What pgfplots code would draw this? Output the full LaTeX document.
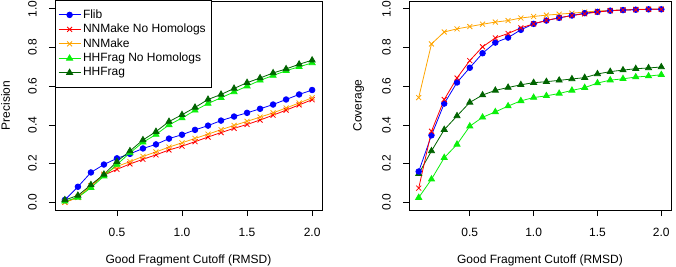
\documentclass[border=0pt]{standalone}
\usepackage{pgfplots}
\usepackage{pgfplotstable}
\pgfplotsset{compat=1.18}
\usepackage{fontspec}
\setmainfont{Liberation Sans}

\definecolor{cblue}{RGB}{0,0,255}
\definecolor{cred}{RGB}{255,0,0}
\definecolor{corange}{RGB}{255,165,0}
\definecolor{clgreen}{RGB}{10,240,10}
\definecolor{cdgreen}{RGB}{0,100,0}

\pgfplotstableread{
x   flib  nnmnh nnm   hhnh  hh
0.1 0.012 0.000 0.000 0.005 0.012
0.2 0.080 0.025 0.025 0.025 0.035
0.3 0.154 0.085 0.085 0.075 0.090
0.4 0.195 0.140 0.145 0.135 0.144
0.5 0.227 0.170 0.185 0.195 0.210
0.6 0.250 0.198 0.210 0.255 0.265
0.7 0.278 0.222 0.237 0.310 0.322
0.8 0.299 0.245 0.260 0.350 0.365
0.9 0.329 0.270 0.285 0.400 0.417
1.0 0.349 0.290 0.307 0.435 0.452
1.1 0.374 0.313 0.330 0.475 0.490
1.2 0.396 0.337 0.352 0.510 0.531
1.3 0.422 0.360 0.375 0.540 0.557
1.4 0.443 0.382 0.397 0.570 0.588
1.5 0.462 0.402 0.418 0.600 0.618
1.6 0.483 0.425 0.440 0.630 0.642
1.7 0.505 0.450 0.462 0.655 0.668
1.8 0.531 0.476 0.487 0.680 0.689
1.9 0.557 0.503 0.513 0.700 0.713
2.0 0.580 0.530 0.540 0.720 0.734
}\precision

\pgfplotstableread{
x   flib  nnmnh nnm   hhnh  hh
0.1 0.159 0.073 0.541 0.024 0.147
0.2 0.346 0.367 0.818 0.119 0.265
0.3 0.510 0.531 0.880 0.230 0.375
0.4 0.619 0.642 0.896 0.299 0.446
0.5 0.695 0.732 0.908 0.393 0.516
0.6 0.770 0.803 0.920 0.439 0.554
0.7 0.825 0.849 0.931 0.467 0.578
0.8 0.851 0.872 0.939 0.497 0.593
0.9 0.891 0.901 0.952 0.524 0.607
1.0 0.922 0.922 0.960 0.541 0.618
1.1 0.939 0.940 0.967 0.550 0.623
1.2 0.953 0.953 0.972 0.562 0.630
1.3 0.965 0.965 0.977 0.578 0.637
1.4 0.977 0.974 0.983 0.592 0.644
1.5 0.984 0.983 0.988 0.616 0.663
1.6 0.990 0.990 0.991 0.631 0.675
1.7 0.993 0.993 0.995 0.638 0.683
1.8 0.995 0.995 0.997 0.647 0.690
1.9 0.997 0.997 0.998 0.652 0.694
2.0 0.997 0.997 0.998 0.659 0.699
}\coverage

\pgfplotsset{
  rstyle/.style={
    scale only axis,
    height=209pt,
    xmin=0.024, xmax=2.076,
    ymin=-0.04, ymax=1.04,
    xtick={0.5,1,1.5,2},
    ytick={0,0.2,0.4,0.6,0.8,1},
    tick pos=left,
    tick align=outside,
    major tick length=6pt,
    tick style={black, line width=0.6pt},
    axis line style={line width=0.6pt},
    /pgf/number format/.cd, fixed, fixed zerofill, precision=1, assume math mode=true,
    /pgfplots/.cd,
    ticklabel style={font=\fontsize{12}{14}\selectfont},
    yticklabel style={rotate=90, anchor=south},
    xticklabel shift=7.7pt,
    yticklabel shift=8pt,
    xlabel shift=10.5pt,
    ylabel shift=10pt,
    label style={font=\fontsize{12}{14}\selectfont},
    xlabel={Good Fragment Cutoff (RMSD)},
    every axis plot/.append style={line width=0.8pt},
  },
  sflib/.style={color=cblue, mark=*, mark size=2.8pt},
  snnmnh/.style={color=cred, mark=x, mark size=3.5pt},
  snnm/.style={color=corange, mark=x, mark size=3.5pt},
  shhnh/.style={color=clgreen, mark=triangle*, mark size=3.5pt},
  shh/.style={color=cdgreen, mark=triangle*, mark size=3.5pt},
}

\begin{document}
\fontsize{12}{14}\selectfont
\begin{tikzpicture}[x=1pt,y=1pt]
\useasboundingbox (0,0) rectangle (676,267);
\begin{axis}[rstyle,
  at={(55pt,57pt)}, anchor=south west, width=267pt,
  ylabel={Precision},
  legend style={at={(0,1.005)}, anchor=north west, draw=black, fill=white,
    font=\fontsize{12}{14}\selectfont, legend cell align=left,
    row sep=0pt, inner xsep=3pt, inner ysep=7.5pt},
  legend image code/.code={\draw[mark repeat=2,mark phase=2,#1] plot coordinates {(0pt,0pt)(11pt,0pt)(22pt,0pt)};},
]
\addplot[sflib] table[x=x,y=flib]{\precision};
\addlegendentry{Flib}
\addplot[snnmnh] table[x=x,y=nnmnh]{\precision};
\addlegendentry{NNMake No Homologs}
\addplot[snnm] table[x=x,y=nnm]{\precision};
\addlegendentry{NNMake}
\addplot[shhnh] table[x=x,y=hhnh]{\precision};
\addlegendentry{HHFrag No Homologs}
\addplot[shh] table[x=x,y=hh]{\precision};
\addlegendentry{HHFrag}
\end{axis}
\begin{axis}[rstyle,
  at={(409pt,57pt)}, anchor=south west, width=262pt,
  ylabel={Coverage},
]
\addplot[snnm] table[x=x,y=nnm]{\coverage};
\addplot[shhnh] table[x=x,y=hhnh]{\coverage};
\addplot[shh] table[x=x,y=hh]{\coverage};
\addplot[sflib] table[x=x,y=flib]{\coverage};
\addplot[snnmnh] table[x=x,y=nnmnh]{\coverage};
\end{axis}
\end{tikzpicture}
\end{document}
